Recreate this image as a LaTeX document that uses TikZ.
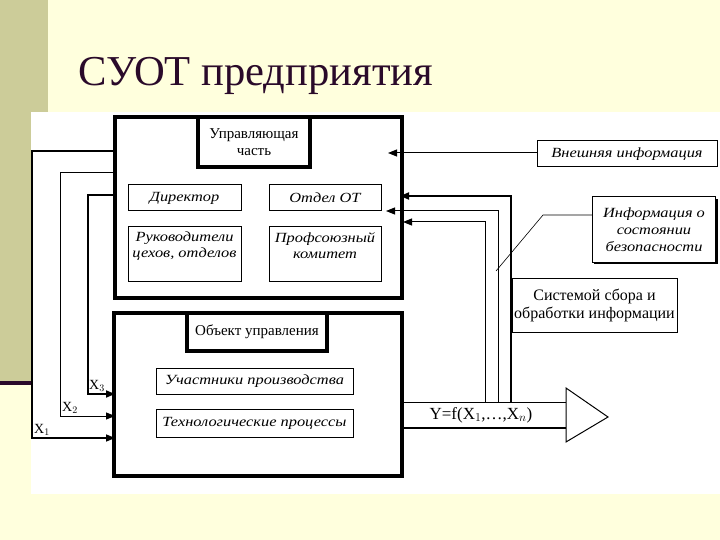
\documentclass[tikz,border=0pt]{standalone}
\usepackage{fontspec}
\setmainfont{Liberation Serif}
\newfontfamily\serifrm{Liberation Serif}
\newcommand{\wi}[1]{\scalebox{1.17}[1]{#1}}
\usetikzlibrary{arrows.meta}
\definecolor{bgyellow}{HTML}{FFFFDD}
\definecolor{olive}{HTML}{CCCC99}
\definecolor{titlecol}{HTML}{2A0A2A}
\tikzset{
  thickbox/.style={draw=black, line width=4pt, fill=white, inner sep=0pt},
  titlebox/.style={draw=black, line width=3.5pt, fill=white, inner sep=0pt, align=center, font=\serifrm\fontsize{15}{17}\selectfont},
  thinbox/.style={draw=black, line width=1pt, fill=white, inner sep=0pt, align=center, font=\serifrm\fontsize{14}{17}\selectfont\itshape},
  plainbox/.style={draw=black, line width=1pt, fill=white, inner sep=0pt, align=center, font=\serifrm\fontsize{16}{18}\selectfont},
  txt/.style={inner sep=0pt, align=center, font=\serifrm\fontsize{14}{16}\selectfont\itshape},
  conn/.style={draw=black, line width=1pt},
  arr/.style={conn, -{Triangle[length=9pt,width=7pt]}},
  xlab/.style={inner sep=0pt, font=\serifrm\fontsize{14}{15}\selectfont}
}
\begin{document}
\begin{tikzpicture}[x=1pt,y=-1pt]
\useasboundingbox (0,0) rectangle (720,540);
% background
\fill[bgyellow] (0,0) rectangle (720,540);
\fill[olive] (0,0) rectangle (48,381);
\fill[titlecol] (0,381) rectangle (48,385);
\node[anchor=base west, inner sep=0pt, text=titlecol, font=\serifrm\fontsize{42.6}{48}\selectfont] (title) at (78,86) {СУОТ предприятия};
\fill[white] (31,112) rectangle (720,494);

% containers
\node[thickbox, minimum width=287pt, minimum height=181pt] (up) at (258.5,207.5) {};
\node[thickbox, minimum width=288pt, minimum height=163pt] (lo) at (258,394.5) {};

% upper contents
\node[titlebox, minimum width=112pt, minimum height=50pt] (upt) at (254,142) {Управляющая\\часть};
\node[thinbox, minimum width=113pt, minimum height=26pt] (dir) at (184.5,198) {\wi{Директор}};
\node[thinbox, minimum width=112pt, minimum height=26pt] (ot) at (325,198) {\wi{Отдел ОТ}};
\node[thinbox, minimum width=113pt, minimum height=54pt] (ruk) at (184.5,254) {};
\node[txt] (rukt) at (184.5,246) {\wi{Руководители}\\\wi{цехов, отделов}};
\node[thinbox, minimum width=112pt, minimum height=54pt] (prof) at (325,254) {};
\node[txt] (proft) at (325,246) {\wi{Профсоюзный}\\\wi{комитет}};

% lower contents
\node[titlebox, minimum width=140pt, minimum height=38pt] (lot) at (257,332) {Объект управления};
\node[thinbox, minimum width=197pt, minimum height=26pt] (uch) at (254.5,381) {\wi{Участники производства}};
\node[thinbox, minimum width=197pt, minimum height=28pt] (tech) at (254.5,423) {\wi{Технологические процессы}};

% right boxes
\node[thinbox, minimum width=180pt, minimum height=26pt] (vnesh) at (627,154) {\wi{Внешняя информация}};
\fill[black] (594,199) rectangle (718,264);
\node[thinbox, minimum width=123pt, minimum height=65pt] (info) at (654,229.5) {\wi{Информация о}\\\wi{состоянии}\\\wi{безопасности}};
\node[plainbox, minimum width=165pt, minimum height=54pt] (sys) at (594.5,305) {Системой сбора и\\обработки информации};

% left feedback loops
\coordinate (l1a) at (115,151); \coordinate (l1b) at (32,151); \coordinate (l1c) at (32,438); \coordinate (l1d) at (115,438);
\coordinate (l2a) at (115,173); \coordinate (l2b) at (60,173); \coordinate (l2c) at (60,416); \coordinate (l2d) at (115,416);
\coordinate (l3a) at (115,195); \coordinate (l3b) at (88,195); \coordinate (l3c) at (88,394); \coordinate (l3d) at (115,394);
\draw[arr, line width=1.5pt] (l1a) -- (l1b) -- (l1c) -- (l1d);
\draw[arr] (l2a) -- (l2b) -- (l2c) -- (l2d);
\draw[arr, line width=1.8pt] (l3a) -- (l3b) -- (l3c) -- (l3d);
\node[xlab, anchor=south west] (x1) at (34,436) {X$_1$};
\node[xlab, anchor=south west] (x2) at (62,414) {X$_2$};
\node[xlab, anchor=south west] (x3) at (89,392) {X$_3$};

% output arrow
\coordinate (sh1) at (402,402); \coordinate (sh2) at (566,402);
\coordinate (sh3) at (402,428); \coordinate (sh4) at (566,428);
\coordinate (hd1) at (566,388); \coordinate (hd2) at (608,417); \coordinate (hd3) at (566,442);
\draw[conn] (sh1) -- (sh2);
\draw[conn, line width=2.5pt] (sh3) -- (sh4);
\draw[conn, fill=white] (hd1) -- (hd2) -- (hd3) -- cycle;
\node[inner sep=0pt, font=\serifrm\fontsize{17}{18}\selectfont] (yf) at (481,415) {Y=f(X$_1$,\dots,X$_n$)};

% right feedback loops
\coordinate (ra) at (511,402); \coordinate (rb) at (498,402); \coordinate (rc) at (485,402);
\coordinate (rat) at (511,196); \coordinate (rbt) at (498,211); \coordinate (rct) at (485,222);
\coordinate (rae) at (400,196); \coordinate (rbe) at (386,211); \coordinate (rce) at (403,222);
\draw[arr, line width=1.8pt] (ra) -- (rat) -- (rae);
\draw[arr] (rb) -- (rbt) -- (rbe);
\draw[arr] (rc) -- (rct) -- (rce);

% external info arrow
\coordinate (ve) at (388,153);
\draw[arr] (vnesh.west |- ve) -- (ve);

% callout
\coordinate (cb) at (543,215); \coordinate (cc) at (496,271);
\draw[conn, line width=0.6pt] (info.west |- cb) -- (cb) -- (cc);
\end{tikzpicture}
\end{document}
